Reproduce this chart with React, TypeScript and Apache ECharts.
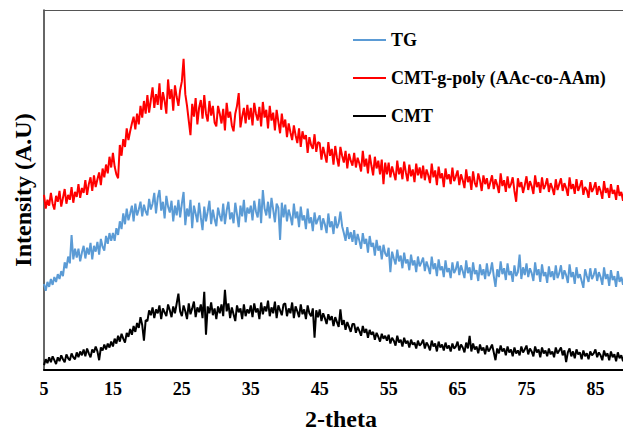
import React, { useEffect, useRef } from "react";
import * as echarts from "echarts";

// 2-theta sampling: first angle and step between consecutive readings
const THETA_START = 5;
const THETA_STEP = 0.25;

const xMin = 5;
const xMax = 89;
const xInterval = 10;

const seriesNames = ["TG", "CMT-g-poly (AAc-co-AAm)", "CMT"];
const seriesColors = ["#5B9BD5", "#FF0000", "#000000"];

// Intensity readings (arbitrary units), one row = 5 degrees
const tgIntensity = [
  88,81,90,85,93,87,95,90,98,93,101,96,110,104,116,109,138,113,124,115,
  124,111,120,127,114,125,118,130,113,127,121,131,118,134,126,122,137,129,140,132,
  140,132,145,138,152,144,160,149,165,153,160,168,152,170,158,164,172,157,169,162,
  158,175,164,170,181,160,176,184,163,172,155,178,167,161,173,152,168,158,174,156,
  170,182,148,165,157,174,145,168,160,151,171,156,143,167,152,162,173,149,164,154,
  147,166,158,152,170,149,163,172,154,161,150,171,159,146,168,157,174,151,166,160,
  168,153,173,162,156,175,150,184,165,158,172,155,176,164,151,170,166,133,171,156,
  169,152,164,157,148,170,155,162,146,167,153,158,144,165,150,156,142,161,149,154,
  158,143,155,149,140,160,146,152,139,157,145,150,162,147,140,132,146,134,141,131,
  143,128,139,132,124,140,129,134,120,137,126,130,117,133,122,127,113,128,119,116,
  125,100,121,114,108,123,111,117,104,120,109,113,102,118,107,112,100,116,106,110,
  115,101,111,105,98,116,103,109,96,113,102,106,95,112,100,104,94,110,99,103,
  111,97,107,101,94,112,99,105,92,110,98,102,91,108,97,103,93,109,96,100,
  110,96,85,103,95,111,98,104,92,109,97,101,90,107,96,100,118,93,105,97,
  109,95,104,99,91,110,97,103,90,108,96,100,89,106,95,101,92,107,94,99,
  107,93,102,97,89,108,95,100,88,105,94,98,91,84,103,96,90,104,93,97,
  104,91,100,95,87,105,93,98,86,102,92,96,85,101,90,95,87,100,89,94,
];

const graftIntensity = [
  179,165,174,168,181,170,164,178,172,183,167,176,185,170,179,174,187,171,182,177,
  190,176,186,181,194,179,190,197,183,199,187,195,202,189,206,197,210,201,218,207,
  222,208,200,196,230,219,236,228,247,235,244,252,259,246,262,251,270,258,275,262,
  281,263,276,289,268,282,271,293,266,284,275,262,297,277,287,265,291,279,270,286,
  295,318,282,270,255,240,272,259,278,251,268,276,257,281,262,254,275,260,270,253,
  249,270,262,252,267,245,273,258,264,250,244,262,270,283,248,259,268,252,271,256,
  268,250,273,262,255,269,249,274,258,266,247,270,255,263,245,266,254,242,262,248,
  256,238,252,243,235,250,240,232,247,228,244,236,240,222,238,230,226,241,223,233,
  232,215,228,220,212,233,219,226,210,229,217,208,228,219,212,224,206,221,214,209,
  222,207,217,211,203,224,208,216,201,220,209,199,218,206,214,200,215,190,212,200,
  212,197,208,201,194,214,200,207,195,213,202,193,210,198,205,192,211,199,207,196,
  209,194,205,199,191,211,197,204,189,208,196,201,187,206,195,200,190,207,193,198,
  204,189,200,194,186,205,192,198,184,203,191,187,201,194,183,199,190,196,185,192,
  199,185,195,189,181,201,188,194,182,198,186,190,197,183,172,196,187,192,181,189,
  198,184,193,188,180,199,187,192,181,197,185,189,196,182,191,186,179,195,184,190,
  196,183,191,186,178,197,185,190,180,195,183,188,194,179,187,184,176,192,182,186,
  192,179,188,183,175,193,181,186,176,190,180,184,174,189,178,182,173,187,177,181,
];

const cmtIntensity = [
  5,11,7,13,8,14,10,6,13,9,15,11,8,16,12,10,17,13,11,18,
  13,19,15,21,14,22,17,13,21,18,24,19,10,23,20,26,21,27,23,29,
  24,32,27,35,29,37,32,28,38,34,42,36,45,39,48,43,54,46,30,51,
  50,61,56,64,53,62,58,66,52,63,59,55,67,61,54,65,58,68,78,60,
  55,66,60,52,68,57,63,70,54,64,59,67,53,80,36,65,58,69,56,63,
  52,65,58,67,55,82,60,68,53,64,57,50,66,59,63,52,67,55,62,58,
  66,54,68,59,63,52,69,57,65,60,71,55,64,58,70,53,66,61,56,67,
  68,55,63,58,69,53,65,60,54,67,57,62,52,66,58,55,63,33,61,54,
  62,50,58,53,47,57,51,55,45,54,49,44,62,46,51,41,49,44,39,47,
  47,38,44,40,35,45,38,42,33,41,36,39,31,38,34,29,37,32,35,30,
  36,27,33,30,25,35,28,31,24,33,27,30,23,31,26,28,22,30,25,27,
  31,22,28,25,20,30,24,27,19,29,23,26,20,28,22,25,19,27,22,24,
  29,20,26,23,18,28,22,35,19,27,21,24,17,26,20,23,16,25,19,22,
  26,18,10,22,17,25,19,22,15,24,18,21,14,23,17,20,15,24,18,21,
  25,16,22,19,14,24,18,21,13,23,17,20,14,22,16,19,13,23,17,20,
  23,15,20,8,18,22,14,19,12,21,16,18,11,20,14,17,11,19,15,17,
  21,13,18,15,10,20,14,17,10,19,13,16,9,18,12,15,9,17,12,15,
];

const allIntensity = [tgIntensity, graftIntensity, cmtIntensity];

const FONT = "'Liberation Serif', Tinos, 'Times New Roman', Times, 'DejaVu Serif', 'Noto Serif', serif";

export default function App() {
  const ref = useRef<HTMLDivElement | null>(null);

  useEffect(() => {
    if (!ref.current) return;
    const chart = echarts.init(ref.current, undefined, { renderer: "svg" });

    const series = allIntensity.map((vals, k) => ({
      name: seriesNames[k],
      type: "line",
      showSymbol: false,
      symbol: "none",
      clip: true,
      lineStyle: { color: seriesColors[k], width: 2 },
      itemStyle: { color: seriesColors[k] },
      data: vals.map((v, i) => [THETA_START + i * THETA_STEP, v]),
    }));

    chart.setOption({
      animation: false,
      backgroundColor: "#ffffff",
      textStyle: { fontFamily: FONT },
      grid: { left: 44, right: 0, top: 10, bottom: 58, containLabel: false },
      legend: {
        orient: "vertical",
        left: 348,
        top: 26,
        itemWidth: 33,
        itemHeight: 2,
        itemGap: 20,
        itemTextGap: 9,
        icon: "rect",
        data: seriesNames,
        textStyle: {
          fontFamily: FONT,
          fontWeight: "bold",
          fontSize: 18,
          lineHeight: 18,
          color: "#000",
        },
      },
      xAxis: [
        {
          type: "value",
          min: xMin,
          max: xMax,
          interval: xInterval,
          position: "bottom",
          name: "2-theta",
          nameLocation: "middle",
          nameGap: 37,
          nameTextStyle: {
            fontFamily: FONT,
            fontWeight: "bold",
            fontSize: 24,
            color: "#000",
            padding: [0, 0, 0, 15],
          },
          axisLine: { show: true, onZero: false, lineStyle: { color: "#000", width: 2 } },
          axisTick: { show: false },
          splitLine: { show: false },
          axisLabel: {
            margin: 10,
            fontFamily: FONT,
            fontWeight: "bold",
            fontSize: 18,
            color: "#000",
            showMaxLabel: false,
          },
        },
        {
          type: "value",
          min: xMin,
          max: xMax,
          position: "top",
          axisLine: { show: true, onZero: false, lineStyle: { color: "#555", width: 1 } },
          axisTick: { show: false },
          axisLabel: { show: false },
          splitLine: { show: false },
        },
      ],
      yAxis: {
        type: "value",
        min: 0,
        max: 368,
        name: "Intensity (A.U)",
        nameLocation: "middle",
        nameGap: 9,
        nameTextStyle: {
          fontFamily: FONT,
          fontWeight: "bold",
          fontSize: 24,
          color: "#000",
        },
        axisLine: { show: true, onZero: false, lineStyle: { color: "#333", width: 1.5 } },
        axisTick: { show: false },
        axisLabel: { show: false },
        splitLine: { show: false },
      },
      series,
    });

    return () => chart.dispose();
  }, []);

  return (
    <div
      ref={ref}
      style={{ position: "fixed", left: 0, top: 0, width: 623, height: 436, background: "#fff" }}
    />
  );
}
